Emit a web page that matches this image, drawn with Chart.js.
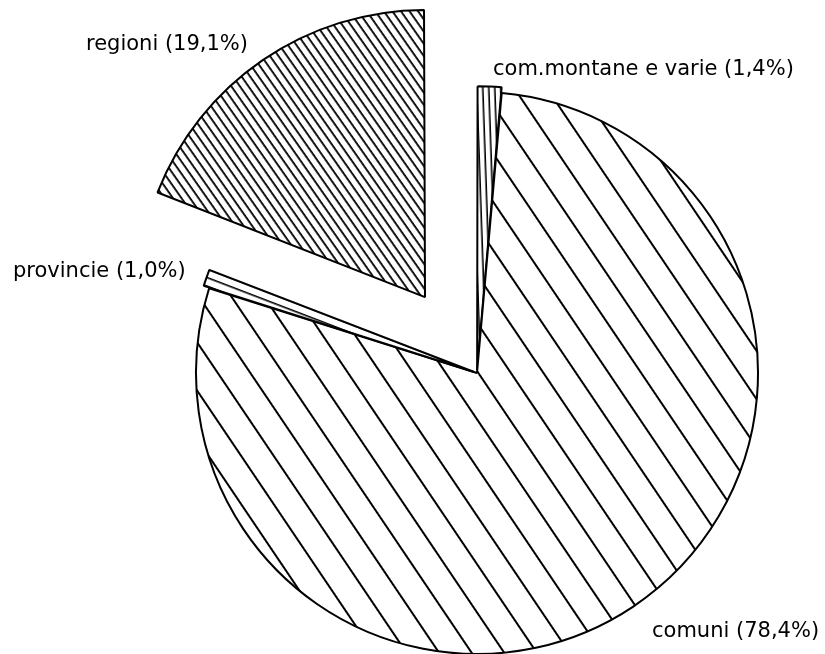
<!DOCTYPE html>
<html>
<head>
<meta charset="utf-8">
<script src="https://cdn.jsdelivr.net/npm/chart.js@4.4.1/dist/chart.umd.min.js"></script>
<style>
  body { margin: 0; background: #fff; }
  #wrap { width: 825px; height: 654px; }
</style>
</head>
<body>
<div id="wrap"><canvas id="spesaChart" width="825" height="654"></canvas></div>
<script>
// quote della spesa per livello di governo (%)
const categories = ['com.montane e varie', 'comuni', 'provincie', 'regioni'];
const shares = [1.4, 78.4, 1.0, 19.1];

// striped fill: horizontal stripe tile rotated to the wanted angle
function hatch(spacing, angle, lineWidth) {
    const tile = document.createElement('canvas');
    tile.width = 20;
    tile.height = spacing;
    const t = tile.getContext('2d');
    t.fillStyle = '#fff';
    t.fillRect(0, 0, tile.width, tile.height);
    t.fillStyle = '#000';
    t.fillRect(0, 0, tile.width, lineWidth);
    const p = t.createPattern(tile, 'repeat');
    p.setTransform(new DOMMatrix().rotateSelf(angle));
    return p;
}

const fills = [
    hatch(6, 88, 1.6),     // com.montane
    hatch(27, 56, 2),      // comuni
    hatch(8, 21, 1.6),     // provincie
    hatch(7.5, 55, 1.8)    // regioni
];

const sliceLabels = categories.map(function (c, i) {
    return c + ' (' + shares[i].toFixed(1).replace('.', ',') + '%)';
});

// text labels beside the slices
const labelPlugin = {
    id: 'sliceLabels',
    afterDraw: function (chart, args, opts) {
        const ctx = chart.ctx;
        ctx.save();
        ctx.font = opts.font;
        ctx.fillStyle = '#000';
        ctx.textBaseline = 'middle';
        opts.spots.forEach(function (s, i) {
            ctx.textAlign = s.align;
            ctx.fillText(sliceLabels[i], s.x, s.y);
        });
        ctx.restore();
    }
};

const spesaChart = new Chart(document.getElementById('spesaChart').getContext('2d'), {
    type: 'pie',
    data: {
        labels: categories,
        datasets: [{
            data: shares,
            backgroundColor: fills,
            borderColor: '#000',
            borderWidth: 2,
            offset: [12, 0, 12, 368],
            radius: 281
        }]
    },
    options: {
        responsive: false,
        animation: false,
        events: [],
        layout: {
            padding: { left: 129, right: 0, top: 92, bottom: 0 }
        },
        plugins: {
            legend: { display: false },
            tooltip: { enabled: false },
            sliceLabels: {
                font: '21px "DejaVu Sans"',
                spots: [
                    { x: 493, y: 70, align: 'left' },
                    { x: 652, y: 632, align: 'left' },
                    { x: 13, y: 272, align: 'left' },
                    { x: 248, y: 45, align: 'right' }
                ]
            }
        }
    },
    plugins: [labelPlugin]
});
</script>
</body>
</html>
